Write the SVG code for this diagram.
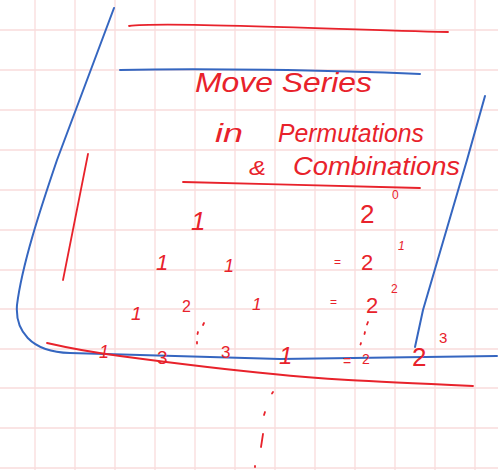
<svg xmlns="http://www.w3.org/2000/svg" width="498" height="470" viewBox="0 0 498 470">
<defs>
<style>
.g{stroke:#f9dcdc;stroke-width:1.3}
.r{fill:none;stroke:#e8222b;stroke-width:1.8;stroke-linecap:round}
.b{fill:none;stroke:#3566c0;stroke-width:2;stroke-linecap:round;stroke-linejoin:round}
.t{fill:#e8222b;font-family:"Liberation Sans",Arial,sans-serif;font-style:italic}
.d{fill:#e8222b;font-family:"Liberation Sans",Arial,sans-serif}
</style>
</defs>
<rect width="498" height="470" fill="#ffffff"/>
<g id="grid">
<path class="g" d="M35,0V470M75,0V470M115,0V470M155,0V470M195,0V470M235,0V470M275,0V470M315,0V470M355,0V470M395,0V470M435,0V470M475,0V470"/>
<path class="g" d="M0,30H498M0,70H498M0,110H498M0,150H498M0,190H498M0,230H498M0,270H498M0,309H498M0,349H498M0,388H498M0,428H498M0,468H498"/>
</g>
<g id="strokes">
<path class="b" d="M114,8 L57,160 C40,210 22,265 17,305 C15,330 30,352 70,353 L280,359 L497,356"/>
<path class="b" d="M120,70 C200,68 330,70 420,74"/>
<path class="b" d="M485,96 L467,160 L423,310 L415,347"/>
<path class="r" d="M129,26 C160,22 300,28 448,32"/>
<path class="r" d="M88,154 L63,280"/>
<path class="r" d="M183,182 C260,184 350,186 420,188"/>
<path class="r" d="M47,343 C60,346 90,352 120,356 C180,364 230,370 273,374 C320,379 360,381 473,386"/>
<path class="r" d="M204,323 l-1,2 M198,332 l-0.5,2 M197,342 l0,1.5 M368,322 l-1,2.5 M365,332 l-0.5,2 M361,343 l-0.5,1.5 M273,392 l-1,1.5 M265,412 l-1,3 M263,434 l-2,13 M255,466 l0,1"/>
</g>
<g id="title">
<text class="t" x="195" y="92" font-size="28" textLength="177" lengthAdjust="spacingAndGlyphs">Move Series</text>
<text class="t" y="142" font-size="26"><tspan x="215" textLength="28" lengthAdjust="spacingAndGlyphs">in</tspan> <tspan x="278" textLength="146" lengthAdjust="spacingAndGlyphs">Permutations</tspan></text>
<text class="t" y="175" font-size="26"><tspan x="249" font-size="20" textLength="17" lengthAdjust="spacingAndGlyphs">&amp;</tspan> <tspan x="293" textLength="167" lengthAdjust="spacingAndGlyphs">Combinations</tspan></text>
</g>
<g id="rows">
<text class="t" x="191" y="230" font-size="26">1</text>
<text class="d" x="360" y="223" font-size="26">2</text>
<text class="d" x="392" y="199" font-size="12">0</text>
<text class="t" x="156" y="270" font-size="22">1</text>
<text class="t" x="224" y="272" font-size="18">1</text>
<text class="d" x="334" y="266" font-size="12">=</text>
<text class="d" x="361" y="270" font-size="22">2</text>
<text class="t" x="398" y="250" font-size="12">1</text>
<text class="t" x="131" y="320" font-size="19">1</text>
<text class="d" x="182" y="312" font-size="16">2</text>
<text class="t" x="252" y="310" font-size="17">1</text>
<text class="d" x="330" y="306" font-size="12">=</text>
<text class="d" x="366" y="313" font-size="22">2</text>
<text class="d" x="391" y="293" font-size="12">2</text>
<text class="t" x="99" y="358" font-size="18">1</text>
<text class="d" x="157" y="364" font-size="19">3</text>
<text class="d" x="221" y="358" font-size="17">3</text>
<text class="t" x="279" y="364" font-size="24">1</text>
<text class="d" x="343" y="366" font-size="14">=</text>
<text class="d" x="362" y="364" font-size="14">2</text>
<text class="d" x="412" y="366" font-size="26">2</text>
<text class="d" x="439" y="343" font-size="15">3</text>
</g>
</svg>
